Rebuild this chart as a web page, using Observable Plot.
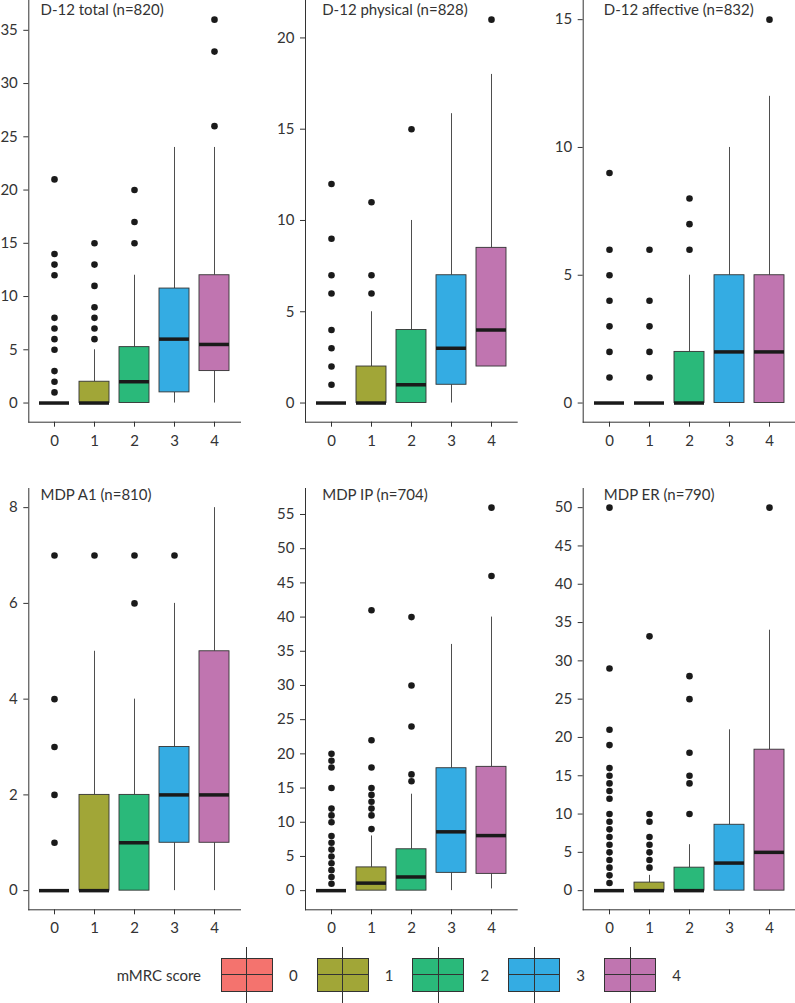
<!DOCTYPE html>
<html>
<head>
<meta charset="utf-8">
<script src="https://cdn.jsdelivr.net/npm/d3@7"></script>
<script src="https://cdn.jsdelivr.net/npm/@observablehq/plot@0.6"></script>
<style>
  body { margin: 0; background: #fff; font-family: Lato, "Open Sans", sans-serif; }
  #root { position: relative; width: 795px; height: 1003px; overflow: hidden; background: #fff; }
  .cell { position: absolute; }
  .cell svg { display: block; overflow: visible; }
  #legend { position: absolute; left: 0; top: 946px; width: 795px; height: 57px; color: #333; font-size: 15px; }
  #legend .ltitle { position: absolute; right: 594px; top: 29px; transform: translateY(-50%); white-space: nowrap; }
  #legend .key { position: absolute; top: 11.7px; width: 52px; height: 34.6px; box-sizing: border-box; border: 1px solid #333; }
  #legend .key .h { position: absolute; left: 0; right: 0; top: 50%; height: 1px; margin-top: -0.5px; background: #333; }
  #legend .key .v { position: absolute; left: 50%; top: -12px; bottom: -12px; width: 1px; margin-left: -0.5px; background: #333; }
  #legend .lab { position: absolute; top: 29px; transform: translate(-50%, -50%); }
</style>
</head>
<body>
<div id="root"><div id="legend"></div></div>
<script>
// ---------- data ----------
const categories = ["0", "1", "2", "3", "4"];
const colors = ["#F4736E", "#A1A637", "#2AB97A", "#34ACE3", "#C075B0"];
const legendTitle = "mMRC score";

// D-12 total (n=820)
const d12TotalLo  = [0, 0, 0, 0, 0];
const d12TotalQ1  = [0, 0, 0, 1, 3];
const d12TotalMed = [0, 0, 2, 6, 5.5];
const d12TotalQ3  = [0, 2, 5.25, 10.75, 12];
const d12TotalHi  = [0, 5, 12, 24, 24];
const d12TotalOut = [[1, 2, 3, 5, 6, 7, 8, 12, 13, 14, 21], [6, 7, 8, 9, 11, 13, 15], [15, 17, 20], [], [26, 33, 36]];
const d12TotalTicks = [0, 5, 10, 15, 20, 25, 30, 35];

// D-12 physical (n=828)
const d12PhysLo  = [0, 0, 0, 0, 2];
const d12PhysQ1  = [0, 0, 0, 1, 2];
const d12PhysMed = [0, 0, 1, 3, 4];
const d12PhysQ3  = [0, 2, 4, 7, 8.5];
const d12PhysHi  = [0, 5, 10, 15.85, 18];
const d12PhysOut = [[1, 2, 3, 4, 6, 7, 9, 12], [6, 7, 11], [15], [], [21]];
const d12PhysTicks = [0, 5, 10, 15, 20];

// D-12 affective (n=832)
const d12AffLo  = [0, 0, 0, 0, 0];
const d12AffQ1  = [0, 0, 0, 0, 0];
const d12AffMed = [0, 0, 0, 2, 2];
const d12AffQ3  = [0, 0, 2, 5, 5];
const d12AffHi  = [0, 0, 5, 10, 12];
const d12AffOut = [[1, 2, 3, 4, 5, 6, 9], [1, 2, 3, 4, 6], [6, 7, 8], [], [15]];
const d12AffTicks = [0, 5, 10, 15];

// MDP A1 (n=810)
const mdpA1Lo  = [0, 0, 0, 0, 0];
const mdpA1Q1  = [0, 0, 0, 1, 1];
const mdpA1Med = [0, 0, 1, 2, 2];
const mdpA1Q3  = [0, 2, 2, 3, 5];
const mdpA1Hi  = [0, 5, 4, 6, 8];
const mdpA1Out = [[1, 2, 3, 4, 7], [7], [6, 7], [7], []];
const mdpA1Ticks = [0, 2, 4, 6, 8];

// MDP IP (n=704)
const mdpIPLo  = [0, 0, 0, 0, 0.25];
const mdpIPQ1  = [0, 0, 0, 2.6, 2.45];
const mdpIPMed = [0, 1.1, 2, 8.6, 8.05];
const mdpIPQ3  = [0, 3.4, 6.05, 17.9, 18.1];
const mdpIPHi  = [0, 8, 14.1, 36, 40];
const mdpIPOut = [[1, 2, 3, 4, 5, 6, 7, 8, 10, 11, 12, 15, 18, 19, 20], [9, 11, 12, 13, 14, 15, 18, 22, 41], [16, 17, 24, 30, 40], [], [46, 56]];
const mdpIPTicks = [0, 5, 10, 15, 20, 25, 30, 35, 40, 45, 50, 55];

// MDP ER (n=790)
const mdpERLo  = [0, 0, 0, 0, 0];
const mdpERQ1  = [0, 0, 0, 0, 0];
const mdpERMed = [0, 0, 0, 3.6, 5];
const mdpERQ3  = [0, 1.05, 3, 8.6, 18.4];
const mdpERHi  = [0, 2, 6, 21, 34];
const mdpEROut = [[1, 2, 3, 4, 5, 6, 7, 8, 9, 10, 12, 13, 14, 15, 16, 19, 21, 29, 50], [3, 4, 5, 6, 7, 9, 10, 33.2], [10, 14, 15, 18, 25, 28], [], [50]];
const mdpERTicks = [0, 5, 10, 15, 20, 25, 30, 35, 40, 45, 50];

const panelTitles = ["D-12 total (n=820)", "D-12 physical (n=828)", "D-12 affective (n=832)",
                     "MDP A1 (n=810)", "MDP IP (n=704)", "MDP ER (n=790)"];

// ---------- layout ----------
const colLeft   = [0, 265, 530];
const colMargL  = [28.3, 40, 52.7];
const colMargR  = [25, 13.3, 0.6];
const colTitleDx = [11.7, 16.7, 20.6];
const rowTop    = [0, 470];
const rowHeight = [470, 476];
const rowMargT  = [0, 18];
const rowMargB  = [48.3, 36.7];
const rowTitleDy = [3.5, 0.5];

const panels = [
  {lo: d12TotalLo, q1: d12TotalQ1, med: d12TotalMed, q3: d12TotalQ3, hi: d12TotalHi, out: d12TotalOut, ticks: d12TotalTicks},
  {lo: d12PhysLo, q1: d12PhysQ1, med: d12PhysMed, q3: d12PhysQ3, hi: d12PhysHi, out: d12PhysOut, ticks: d12PhysTicks},
  {lo: d12AffLo, q1: d12AffQ1, med: d12AffMed, q3: d12AffQ3, hi: d12AffHi, out: d12AffOut, ticks: d12AffTicks},
  {lo: mdpA1Lo, q1: mdpA1Q1, med: mdpA1Med, q3: mdpA1Q3, hi: mdpA1Hi, out: mdpA1Out, ticks: mdpA1Ticks},
  {lo: mdpIPLo, q1: mdpIPQ1, med: mdpIPMed, q3: mdpIPQ3, hi: mdpIPHi, out: mdpIPOut, ticks: mdpIPTicks},
  {lo: mdpERLo, q1: mdpERQ1, med: mdpERMed, q3: mdpERQ3, hi: mdpERHi, out: mdpEROut, ticks: mdpERTicks}
];

const root = document.getElementById("root");

panels.forEach((p, k) => {
  const col = k % 3, row = Math.floor(k / 3);
  const boxes = categories.map((c, i) => ({cat: c, lo: p.lo[i], q1: p.q1[i], med: p.med[i], q3: p.q3[i], hi: p.hi[i]}));
  const pts = p.out.flatMap((arr, i) => arr.map(v => ({cat: categories[i], v})));
  const [mn, mx] = d3.extent([...p.lo, ...p.hi, ...pts.map(d => d.v)]);
  const pad = (mx - mn) * 0.05;

  const chart = Plot.plot({
    width: 265,
    height: rowHeight[row],
    marginLeft: colMargL[col],
    marginRight: colMargR[col],
    marginTop: rowMargT[row],
    marginBottom: rowMargB[row],
    style: {fontFamily: "Lato, 'Open Sans', sans-serif", fontSize: "15px", color: "#444", background: "transparent", overflow: "visible"},
    x: {type: "band", domain: categories, paddingInner: 0.25, paddingOuter: 0.225, label: null, axis: null},
    y: {domain: [mn - pad, mx + pad], label: null, axis: null},
    color: {domain: categories, range: colors},
    marks: [
      Plot.ruleX(boxes, {x: "cat", y1: "q3", y2: "hi", stroke: "#3a3a3a", strokeWidth: 0.9}),
      Plot.ruleX(boxes, {x: "cat", y1: "lo", y2: "q1", stroke: "#3a3a3a", strokeWidth: 0.9}),
      Plot.barY(boxes, {x: "cat", y1: "q1", y2: "q3", fill: "cat", stroke: "#333", strokeWidth: 0.9}),
      Plot.tickY(boxes, {x: "cat", y: "med", stroke: "#1a1a1a", strokeWidth: 3.5}),
      Plot.dot(pts, {x: "cat", y: "v", r: 3.3, fill: "#1a1a1a"}),
      Plot.axisX({tickSize: 5, tickPadding: 8, fontSize: 15, color: "#333", label: null}),
      Plot.axisY({ticks: p.ticks, tickSize: 5, tickPadding: 6, fontSize: 15, color: "#333", label: null}),
      Plot.frame({anchor: "left", stroke: "#333", strokeWidth: 1}),
      Plot.frame({anchor: "bottom", stroke: "#333", strokeWidth: 1}),
      Plot.text([panelTitles[k]], {frameAnchor: "top-left", textAnchor: "start", lineAnchor: "top",
        dx: colTitleDx[col], dy: rowTitleDy[row], fontSize: 15, fill: "#333"})
    ]
  });
  const cell = document.createElement("div");
  cell.className = "cell";
  cell.style.left = colLeft[col] + "px";
  cell.style.top = rowTop[row] + "px";
  cell.appendChild(chart);
  root.appendChild(cell);
});

// ---------- legend ----------
const legend = document.getElementById("legend");
const lt = document.createElement("div");
lt.className = "ltitle";
lt.textContent = legendTitle;
legend.appendChild(lt);
categories.forEach((c, i) => {
  const left = 220.8 + i * 95.8;
  const key = document.createElement("div");
  key.className = "key";
  key.style.left = left + "px";
  key.style.background = colors[i];
  key.innerHTML = '<div class="h"></div><div class="v"></div>';
  legend.appendChild(key);
  const lab = document.createElement("div");
  lab.className = "lab";
  lab.style.left = (left + 72.5) + "px";
  lab.textContent = c;
  legend.appendChild(lab);
});
</script>
</body>
</html>
